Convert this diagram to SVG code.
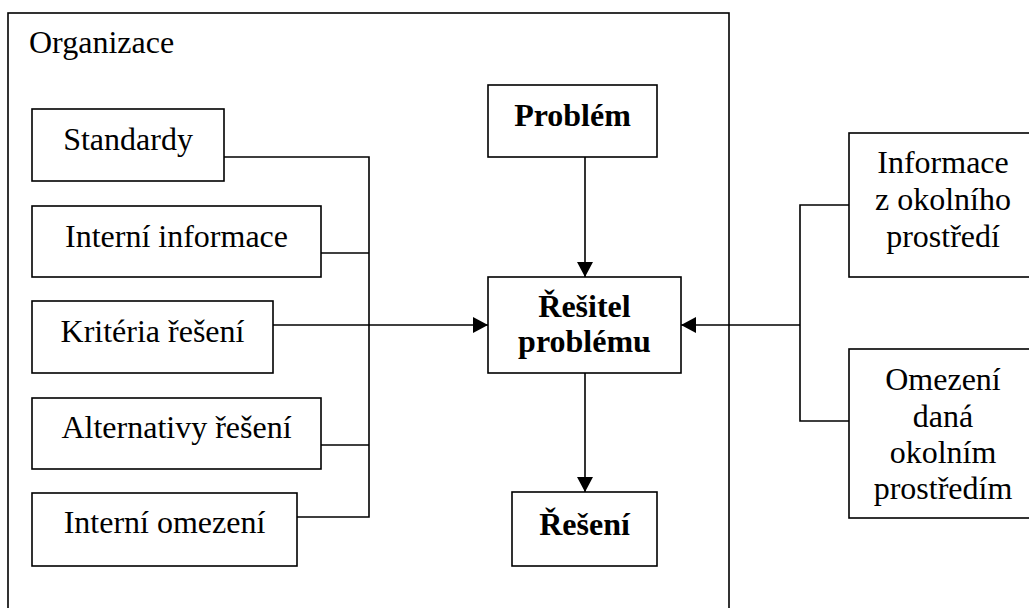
<svg xmlns="http://www.w3.org/2000/svg" width="1029" height="608" viewBox="0 0 1029 608">
<style>
.box{fill:#fff;stroke:#000;stroke-width:1.6}
.frame{fill:none;stroke:#000;stroke-width:1.6}
text{font-family:'Liberation Serif','Times New Roman','DejaVu Serif',serif;font-size:32px;fill:#000;text-anchor:middle}
.b{font-weight:bold}
.l{text-anchor:start}
.c{fill:none;stroke:#000;stroke-width:1.6}
</style>
<defs>
<marker id="arr" markerUnits="userSpaceOnUse" markerWidth="16" markerHeight="16" refX="15" refY="8" orient="auto">
<path d="M0,0 L15,8 L0,16 z" fill="#000"/>
</marker>
</defs>
<rect width="1029" height="608" fill="#fff"/>
<g font-family="Liberation Serif, serif">
<g id="organizace">
<rect class="frame" x="8" y="13" width="721" height="620"/>
<text class="l" x="29" y="53">Organizace</text>
</g>
<g id="connectors">
<path class="c" d="M224,157 H369 V517 H297"/>
<path class="c" d="M321,253 H369"/>
<path class="c" d="M321,445 H369"/>
<path class="c" d="M273,325 H488" marker-end="url(#arr)"/>
<path class="c" d="M585,157 V277" marker-end="url(#arr)"/>
<path class="c" d="M585,373 V492" marker-end="url(#arr)"/>
<path class="c" d="M849,205 H800 V421 H849"/>
<path class="c" d="M800,325 H681" marker-end="url(#arr)"/>
</g>
<g id="standardy">
<rect class="box" x="32" y="109" width="192" height="72"/>
<text x="128" y="150">Standardy</text>
</g>
<g id="interni-informace">
<rect class="box" x="32" y="206" width="289" height="71"/>
<text x="176.5" y="247">Interní informace</text>
</g>
<g id="kriteria">
<rect class="box" x="32" y="301" width="241" height="72"/>
<text x="152.5" y="342">Kritéria řešení</text>
</g>
<g id="alternativy">
<rect class="box" x="32" y="398" width="289" height="71"/>
<text x="176.5" y="438">Alternativy řešení</text>
</g>
<g id="interni-omezeni">
<rect class="box" x="32" y="493" width="265" height="73"/>
<text x="164.5" y="533">Interní omezení</text>
</g>
<g id="problem">
<rect class="box" x="488" y="85" width="169" height="72"/>
<text class="b" x="572.5" y="126">Problém</text>
</g>
<g id="resitel">
<rect class="box" x="488" y="277" width="193" height="96"/>
<text class="b" x="584.5" y="317">Řešitel</text>
<text class="b" x="584.5" y="352">problému</text>
</g>
<g id="reseni">
<rect class="box" x="512" y="492" width="145" height="74"/>
<text class="b" x="584.5" y="535">Řešení</text>
</g>
<g id="informace-okoli">
<rect class="box" x="849" y="133" width="190" height="144"/>
<text x="943" y="173">Informace</text>
<text x="943" y="210">z okolního</text>
<text x="943" y="247">prostředí</text>
</g>
<g id="omezeni-okoli">
<rect class="box" x="849" y="349" width="190" height="169"/>
<text x="943" y="390">Omezení</text>
<text x="943" y="427">daná</text>
<text x="943" y="463">okolním</text>
<text x="943" y="499">prostředím</text>
</g>
</g>
</svg>
